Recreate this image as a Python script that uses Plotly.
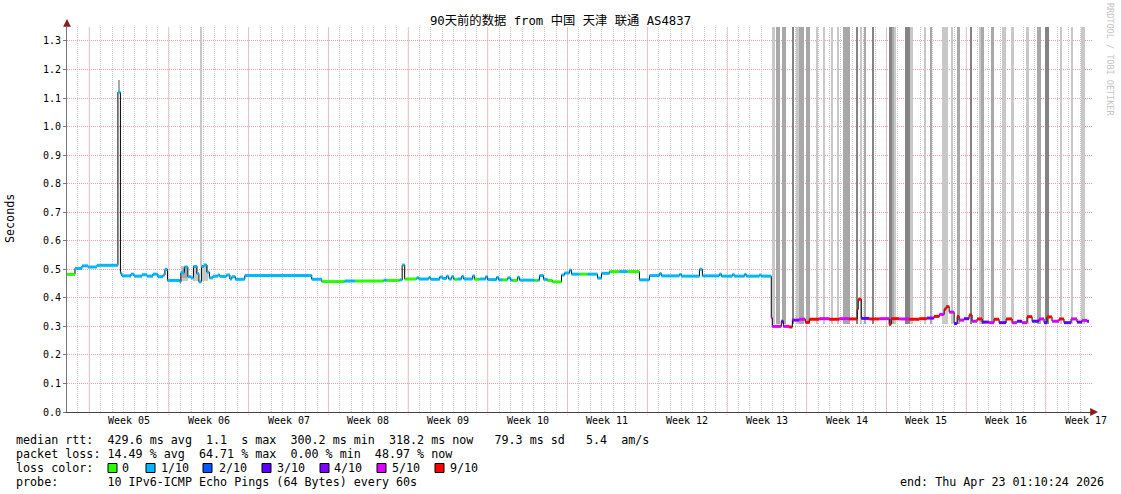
import plotly.graph_objects as go
from datetime import datetime, timedelta

# ---------------- data ----------------
START = datetime(2026, 1, 23, 1, 10, 24)
SPAN_DAYS = 90
END = START + timedelta(days=SPAN_DAYS)

# median RTT step points: days after START, seconds, lost pings (of 10)
med_day = [0.00, 0.70, 1.32, 1.84, 2.63, 4.47, 4.69, 4.82, 5.61, 5.88, 6.58, 7.02, 7.54, 7.98, 8.42,
           8.60, 8.82, 9.91, 10.00, 10.31, 10.61, 10.88, 11.10, 11.40, 11.58, 11.80, 12.02, 12.28,
           12.50, 12.81, 13.25, 13.42, 13.99, 14.30, 14.47, 14.78, 15.61, 21.49, 22.37, 24.38, 25.26,
           27.81, 28.07, 29.21, 29.43, 29.65, 30.70, 30.88, 31.76, 31.93, 32.72, 32.98, 33.33, 33.51,
           33.77, 33.95, 34.04, 34.30, 34.65, 34.83, 35.62, 35.79, 36.23, 36.76, 36.93, 37.72, 37.90,
           38.25, 38.69, 38.95, 39.12, 39.56, 39.74, 41.05, 41.32, 41.49, 41.84, 42.19, 42.63, 43.42,
           43.68, 44.12, 44.30, 45.00, 45.70, 46.58, 46.93, 47.63, 48.50, 49.20, 50.26, 51.14, 52.02,
           52.19, 53.77, 53.95, 55.53, 55.79, 57.28, 57.46, 58.42, 58.60, 59.48, 59.65, 60.79, 60.97,
           61.84, 61.93, 62.72, 62.90, 63.40, 63.69, 64.30, 64.83, 65.18, 66.05, 66.93, 67.81, 68.68,
           69.39, 69.47, 69.74, 70.44, 71.32, 72.19, 72.37, 73.07, 73.95, 74.83, 75.50, 76.14, 76.60,
           77.02, 77.19, 77.46, 77.89, 78.16, 78.33, 78.77, 79.21, 79.47, 79.91, 80.35, 80.96, 81.40,
           81.84, 82.46, 82.98, 83.42, 83.86, 84.30, 84.74, 85.35, 85.79, 86.05, 86.49, 87.11, 87.54,
           88.16, 88.68, 89.12, 89.56, 89.74]
med_rtt = [0.482, 0.503, 0.512, 0.508, 0.514, 1.120, 0.486, 0.477, 0.483, 0.476, 0.481, 0.476, 0.483, 0.474, 0.480,
           0.500, 0.461, 0.455, 0.488, 0.508, 0.474, 0.470, 0.510, 0.485, 0.456, 0.510, 0.515, 0.490,
           0.470, 0.476, 0.480, 0.475, 0.480, 0.466, 0.474, 0.465, 0.478, 0.465, 0.457, 0.459, 0.459,
           0.462, 0.461, 0.463, 0.515, 0.466, 0.470, 0.466, 0.471, 0.465, 0.473, 0.468, 0.476, 0.466,
           0.474, 0.466, 0.465, 0.466, 0.475, 0.466, 0.477, 0.465, 0.466, 0.474, 0.464, 0.472, 0.463,
           0.463, 0.470, 0.462, 0.461, 0.472, 0.462, 0.461, 0.462, 0.478, 0.465, 0.461, 0.456, 0.480,
           0.487, 0.497, 0.483, 0.483, 0.483, 0.469, 0.486, 0.492, 0.492, 0.492, 0.463, 0.478, 0.485,
           0.477, 0.482, 0.476, 0.500, 0.477, 0.483, 0.476, 0.481, 0.476, 0.482, 0.476, 0.480, 0.476,
           0.330, 0.300, 0.318, 0.300, 0.298, 0.322, 0.325, 0.314, 0.325, 0.327, 0.325, 0.327, 0.326,
           0.360, 0.395, 0.328, 0.326, 0.327, 0.307, 0.327, 0.326, 0.325, 0.327, 0.329, 0.335, 0.342,
           0.360, 0.369, 0.350, 0.310, 0.335, 0.322, 0.327, 0.340, 0.318, 0.326, 0.315, 0.313, 0.325,
           0.313, 0.326, 0.313, 0.318, 0.313, 0.334, 0.318, 0.326, 0.313, 0.333, 0.318, 0.326, 0.313,
           0.326, 0.315, 0.321, 0.318, 0.318]
med_loss = [0, 1, 1, 1, 1, 1, 1, 1, 1, 1, 1, 1, 1, 1, 1,
            1, 1, 1, 1, 1, 1, 1, 1, 1, 1, 1, 1, 1,
            1, 1, 1, 1, 1, 1, 1, 1, 1, 1, 0, 1, 0,
            1, 0, 1, 1, 0, 1, 1, 1, 1, 1, 1, 1, 1,
            1, 1, 0, 1, 1, 1, 1, 0, 1, 1, 1, 1, 1,
            0, 1, 1, 0, 1, 1, 0, 1, 1, 1, 0, 0, 1,
            1, 1, 1, 0, 1, 1, 1, 0, 1, 0, 1, 1, 1,
            1, 1, 1, 1, 1, 1, 1, 1, 1, 1, 1, 1, 1,
            5, 5, 3, 5, 9, 4, 5, 9, 9, 5, 9, 5, 9,
            9, 9, 3, 9, 5, 9, 9, 5, 9, 9, 4, 9, 5,
            9, 9, 5, 3, 9, 5, 3, 9, 5, 9, 3, 5, 9,
            3, 9, 5, 3, 5, 9, 3, 5, 3, 9, 5, 9, 3,
            5, 3, 5, 4, 4]

# smoke / loss columns: start day, end day, low s, high s, shade (1 light .. 3 dark)
smk_start = [4.50, 10.00, 10.12, 11.10, 11.80, 11.72,
             61.93, 62.28, 62.81, 63.64, 63.99, 64.30, 64.91, 65.79, 66.40, 67.06, 67.59, 68.16,
             69.25, 69.60, 69.96, 70.67, 72.19, 72.46, 72.63, 73.56, 74.10, 75.22, 75.79, 76.84,
             77.59, 78.16, 79.30, 80.06, 80.26, 81.14, 82.11, 82.96, 84.26, 85.14, 85.88, 87.15,
             88.16, 89.04]
smk_end = [4.66, 10.60, 10.50, 11.50, 12.40, 11.80,
           62.15, 62.63, 63.16, 63.82, 64.30, 64.70, 65.26, 65.97, 66.53, 67.24, 67.77, 68.72,
           69.43, 69.82, 70.14, 70.85, 72.46, 72.63, 72.81, 74.10, 74.27, 75.40, 75.97, 77.37,
           77.77, 78.42, 79.47, 80.26, 80.48, 81.40, 82.43, 83.13, 84.43, 85.50, 86.23, 87.37,
           88.33, 89.35]
smk_low = [1.120, 0.458, 0.470, 0.460, 0.460, 0.510] + [0.310] * 38
smk_high = [1.165, 0.510, 0.505, 0.512, 0.516, 1.350] + [1.350] * 38
smk_shade = [2, 1, 2, 1, 1, 1,
             1, 2, 2, 3, 1, 2, 2, 1, 1, 1, 1, 2,
             3, 1, 2, 3, 3, 2, 1, 3, 1, 1, 2, 1,
             1, 2, 3, 1, 2, 2, 1, 1, 1, 2, 3, 1,
             1, 1]

week_labels = ["Week 05", "Week 06", "Week 07", "Week 08", "Week 09", "Week 10", "Week 11",
               "Week 12", "Week 13", "Week 14", "Week 15", "Week 16", "Week 17"]
FIRST_WEEK_START = datetime(2026, 1, 25)

y_ticks = [0.0, 0.1, 0.2, 0.3, 0.4, 0.5, 0.6, 0.7, 0.8, 0.9, 1.0, 1.1, 1.2, 1.3]

loss_keys = [0, 1, 2, 3, 4, 5, 9]
loss_names = ["0", "1/10", "2/10", "3/10", "4/10", "5/10", "9/10"]

title_text = "90天前的数据 from 中国 天津 联通 AS4837"
stat_lines = [
    "median rtt:  429.6 ms avg  1.1  s max  300.2 ms min  318.2 ms now   79.3 ms sd   5.4  am/s",
    "packet loss: 14.49 % avg  64.71 % max  0.00 % min  48.97 % now",
    "loss color:",
    "probe:       10 IPv6-ICMP Echo Pings (64 Bytes) every 60s",
]
end_text = "end: Thu Apr 23 01:10:24 2026"
watermark = "RRDTOOL / TOBI OETIKER"

# ---------------- styles ----------------
LOSS_COLORS = {0: "#26ff00", 1: "#00b8ff", 2: "#0059ff", 3: "#5e00ff",
               4: "#7e00ff", 5: "#dd00ff", 9: "#ff0000"}
SHADES = {1: "#c8c8c8", 2: "#a8a8a8", 3: "#848484"}
MONO = "DejaVu Sans Mono, Noto Sans CJK SC, monospace"
W, H = 1121, 494
L, R, T, B = 67, 1092, 27, 412
PW, PH = R - L, B - T
MAJOR_GRID = "#eba0a0"
MINOR_GRID = "#cdcdcd"
DAY_MS = 86400000


def d2t(d):
    return START + timedelta(days=d)


def px(x):
    return (x - L) / PW


def py(y):
    return (B - y) / PH


fig = go.Figure()

# smoke / loss columns
fig.add_trace(go.Bar(
    x=[d2t((s + e) / 2) for s, e in zip(smk_start, smk_end)],
    y=[h - lo for lo, h in zip(smk_low, smk_high)],
    base=smk_low,
    width=[(e - s) * DAY_MS for s, e in zip(smk_start, smk_end)],
    marker=dict(color=[SHADES[k] for k in smk_shade], line=dict(width=0)),
    hoverinfo="skip", showlegend=False,
))

# black step line of the median
fig.add_trace(go.Scatter(
    x=[d2t(d) for d in med_day], y=med_rtt, mode="lines",
    line=dict(color="#000000", width=1, shape="hv"),
    hoverinfo="skip", showlegend=False,
))

# coloured median segments by loss
for k in loss_keys:
    xs, ys = [], []
    for i in range(len(med_day) - 1):
        if med_loss[i] == k:
            xs += [d2t(med_day[i]), d2t(med_day[i + 1]), None]
            ys += [med_rtt[i], med_rtt[i], None]
    if xs:
        fig.add_trace(go.Scatter(
            x=xs, y=ys, mode="lines",
            line=dict(color=LOSS_COLORS[k], width=3),
            hoverinfo="skip", showlegend=False,
        ))

sundays = [FIRST_WEEK_START + timedelta(days=7 * i) for i in range(len(week_labels))]
label_pos = [s + timedelta(days=3.5) for s in sundays]

annotations = []
shapes = []

# weekly (major) vertical grid lines with a small tick below the axis
for s in sundays:
    shapes.append(dict(type="line", xref="x", yref="paper", x0=s, x1=s,
                       y0=py(B + 3), y1=1, layer="below",
                       line=dict(color="#f0b4b4", width=1, dash="1px,1px")))


def ann(text, x, y, size=11.7, anchor="left", color="#000000", angle=0):
    annotations.append(dict(
        text=text, xref="paper", yref="paper", x=px(x), y=py(y),
        xanchor=anchor, yanchor="middle", showarrow=False, textangle=angle,
        borderpad=0, font=dict(family=MONO, size=size, color=color)))


# week labels (time axis labels, centred in each week)
for lp, wl in zip(label_pos, week_labels):
    annotations.append(dict(text=wl, xref="x", yref="paper", x=lp, y=py(421),
                            xanchor="center", yanchor="middle", showarrow=False,
                            borderpad=0, font=dict(family=MONO, size=10, color="#000000")))

NB = "\u00a0"
row_y = [440, 454, 468, 482]
for line, yy in zip(stat_lines, row_y):
    ann(line.replace(" ", NB), 15, yy)
ann(end_text.replace(" ", NB), 1105, row_y[3], anchor="right")

box_x = [108, 146, 203, 262, 320, 377, 435]
lab_x = [122, 161, 219, 277, 334, 392, 450]
for k, name, bx, lx in zip(loss_keys, loss_names, box_x, lab_x):
    shapes.append(dict(type="rect", xref="paper", yref="paper",
                       x0=px(bx), x1=px(bx + 9), y0=py(row_y[2] - 4.5), y1=py(row_y[2] + 4.5),
                       fillcolor=LOSS_COLORS[k], line=dict(color="#000000", width=1)))
    ann(name, lx - 1, row_y[2])

ann("Seconds", 10, 219, size=11.7, anchor="center", angle=-90)
ann(watermark, 1110, 59, size=8.5, anchor="center", color="#c4c4c4", angle=90)

# axis arrows
annotations.append(dict(text="", xref="paper", yref="paper", x=px(L), y=py(19),
                        ax=0, ay=8, showarrow=True, arrowhead=2, arrowsize=1.3,
                        arrowwidth=1.2, arrowcolor="#8b1a1a"))
annotations.append(dict(text="", xref="paper", yref="paper", x=px(1098), y=py(B),
                        ax=-8, ay=0, showarrow=True, arrowhead=2, arrowsize=1.3,
                        arrowwidth=1.2, arrowcolor="#8b1a1a"))

fig.update_layout(
    width=W, height=H,
    margin=dict(l=L, r=W - R, t=T, b=H - B, pad=0),
    paper_bgcolor="#ffffff", plot_bgcolor="#ffffff",
    showlegend=False,
    title=dict(text=title_text, x=0.5, xref="container", xanchor="center",
               y=1 - 21 / H, yref="container", yanchor="middle",
               font=dict(family=MONO, size=12.3, color="#000000")),
    xaxis=dict(type="date", range=[START, END], dtick=DAY_MS, tick0="2026-01-24",
               showticklabels=False, showgrid=True, gridcolor=MINOR_GRID,
               griddash="1px,1px", gridwidth=1, ticks="",
               showline=True, linecolor="#444444", linewidth=1, zeroline=False),
    yaxis=dict(range=[0, 1.349], tickmode="array", tickvals=y_ticks,
               ticktext=[f"{v:.1f}" for v in y_ticks],
               showgrid=True, gridcolor=MAJOR_GRID, griddash="1px,1px", gridwidth=1,
               ticks="outside", ticklen=3, tickcolor="#777777",
               showline=True, linecolor="#777777", linewidth=1, zeroline=False,
               tickfont=dict(family=MONO, size=10, color="#000000")),
    annotations=annotations,
    shapes=shapes,
    bargap=0,
)

fig.write_html("out.html", config={"displayModeBar": False},
               post_script="document.body.style.margin='0';")
